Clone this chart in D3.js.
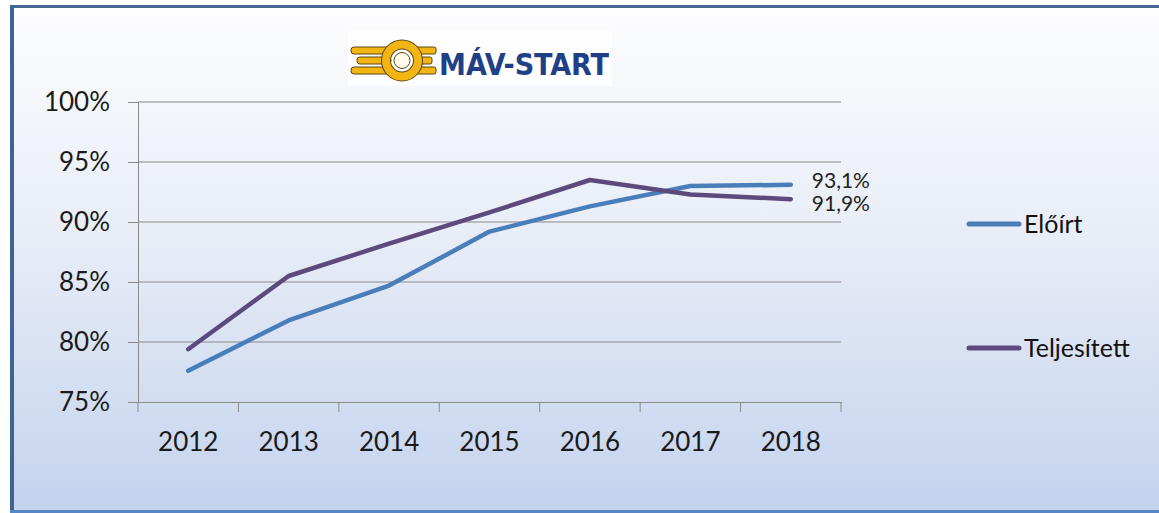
<!DOCTYPE html>
<html>
<head>
<meta charset="utf-8">
<script src="https://cdn.jsdelivr.net/npm/d3@7"></script>
<style>
  body { margin: 0; background: #ffffff; overflow: hidden; }
  svg { display: block; }
</style>
</head>
<body>
<svg id="chart" width="1159" height="513"></svg>
<script>
// chart data
const years = ["2012", "2013", "2014", "2015", "2016", "2017", "2018"];
const eloirt = [0.776, 0.818, 0.847, 0.892, 0.913, 0.930, 0.931];
const teljesitett = [0.794, 0.855, 0.882, 0.908, 0.935, 0.923, 0.919];
const seriesNames = ["Előírt", "Teljesített"];
const seriesColors = ["#4a7ebb", "#5d4a7c"];
const yTicks = [0.75, 0.80, 0.85, 0.90, 0.95, 1.00];

const svg = d3.select("#chart");
const font = "Lato, 'Open Sans', sans-serif";

// background gradient of the chart area
const defs = svg.append("defs");
const grad = defs.append("linearGradient")
  .attr("id", "bg").attr("x1", 0).attr("y1", 0).attr("x2", 0).attr("y2", 1);
grad.append("stop").attr("offset", "0%").attr("stop-color", "#fdfdfe");
grad.append("stop").attr("offset", "45%").attr("stop-color", "#e8edf7");
grad.append("stop").attr("offset", "100%").attr("stop-color", "#c4d3ee");

svg.append("rect")
  .attr("x", 12).attr("y", 7).attr("width", 1160).attr("height", 504)
  .attr("fill", "url(#bg)");

// frame (the right edge is cut off in the original)
svg.append("rect").attr("x", 10).attr("y", 5).attr("width", 1160).attr("height", 3).attr("fill", "#46699a");
svg.append("rect").attr("x", 10).attr("y", 5).attr("width", 4).attr("height", 508).attr("fill", "#3f6393");
svg.append("rect").attr("x", 10).attr("y", 510).attr("width", 1160).attr("height", 3).attr("fill", "#5a86c6");

// scales
const x = d3.scaleBand().domain(years).range([138, 841]);
const y = d3.scaleLinear().domain([0.75, 1]).range([402, 102]);
const cx = d => x(d) + x.bandwidth() / 2;

// gridlines
svg.append("g")
  .selectAll("line")
  .data(yTicks.slice(1))
  .join("line")
  .attr("x1", x.range()[0]).attr("x2", x.range()[1])
  .attr("y1", d => y(d)).attr("y2", d => y(d))
  .attr("stroke", "#8a8a8a").attr("stroke-width", 1);

// y axis
const yAxis = svg.append("g")
  .attr("transform", "translate(" + x.range()[0] + ",0)")
  .call(d3.axisLeft(y).tickValues(yTicks).tickFormat(d3.format(".0%")).tickSize(10).tickPadding(18));
yAxis.select(".domain").attr("stroke", "#8a8a8a");
yAxis.selectAll(".tick line").attr("stroke", "#8a8a8a");
yAxis.selectAll(".tick text")
  .style("font-family", font).style("font-size", "26px").style("fill", "#1a1a1a");

// x axis: labels centred, ticks on category boundaries
const xAxis = svg.append("g")
  .attr("transform", "translate(0," + y(0.75) + ")")
  .call(d3.axisBottom(x).tickSize(0).tickPadding(31));
xAxis.select(".domain").attr("stroke", "#8a8a8a");
xAxis.selectAll(".tick text")
  .style("font-family", font).style("font-size", "26px").style("fill", "#1a1a1a");
const bounds = years.map(d => x(d)).concat([x.range()[1]]);
xAxis.selectAll(".bound")
  .data(bounds)
  .join("line")
  .attr("class", "bound")
  .attr("x1", d => d).attr("x2", d => d)
  .attr("y1", 0).attr("y2", 10)
  .attr("stroke", "#8a8a8a");

// lines
const line = d3.line().x((d, i) => cx(years[i])).y(d => y(d));
[eloirt, teljesitett].forEach((vals, k) => {
  svg.append("path")
    .datum(vals)
    .attr("d", line)
    .attr("fill", "none")
    .attr("stroke", seriesColors[k])
    .attr("stroke-width", 4.5)
    .attr("stroke-linecap", "round")
    .attr("stroke-linejoin", "round");
});

// data labels on the last point (nudged a little apart, they nearly collide)
const fmtLabel = v => d3.format(".1%")(v).replace(".", ",");
[eloirt, teljesitett].forEach((vals, k) => {
  const last = vals.length - 1;
  svg.append("text")
    .attr("x", cx(years[last]) + 21)
    .attr("y", y(vals[last]) + (k === 0 ? -4 : 4))
    .attr("dy", "0.35em")
    .style("font-family", font).style("font-size", "21px").style("fill", "#222")
    .text(fmtLabel(vals[last]));
});

// legend
const legend = svg.append("g");
seriesNames.forEach((name, k) => {
  const ly = 224 + k * 124;
  legend.append("line")
    .attr("x1", 969).attr("x2", 1019)
    .attr("y1", ly).attr("y2", ly)
    .attr("stroke", seriesColors[k]).attr("stroke-width", 5)
    .attr("stroke-linecap", "round");
  legend.append("text")
    .attr("x", 1024).attr("y", ly).attr("dy", "0.35em")
    .style("font-family", font).style("font-size", "25px").style("fill", "#111")
    .text(name);
});

// MÁV-START logo
const logo = svg.append("g");
logo.append("rect")
  .attr("x", 348).attr("y", 30).attr("width", 264).attr("height", 56)
  .attr("fill", "#ffffff").attr("opacity", 0.8);
const yellow = "#f3b512", outline = "#5a4612";
// stripes on the left (wings)
[[351, 47, 42], [357, 57, 34], [351, 67, 42]].forEach(b => {
  logo.append("rect")
    .attr("x", b[0]).attr("y", b[1]).attr("width", b[2]).attr("height", 7).attr("rx", 3)
    .attr("fill", yellow).attr("stroke", outline).attr("stroke-width", 1);
});
// stripes on the right
[[414, 47, 22], [414, 57, 18], [414, 67, 22]].forEach(b => {
  logo.append("rect")
    .attr("x", b[0]).attr("y", b[1]).attr("width", b[2]).attr("height", 7).attr("rx", 2)
    .attr("fill", yellow).attr("stroke", outline).attr("stroke-width", 1);
});
// wheel
logo.append("circle")
  .attr("cx", 402).attr("cy", 60.5).attr("r", 16)
  .attr("fill", "none").attr("stroke", outline).attr("stroke-width", 10);
logo.append("circle")
  .attr("cx", 402).attr("cy", 60.5).attr("r", 16)
  .attr("fill", "none").attr("stroke", yellow).attr("stroke-width", 8);
logo.append("circle")
  .attr("cx", 402).attr("cy", 60.5).attr("r", 8)
  .attr("fill", "#fffbe8").attr("stroke", outline).attr("stroke-width", 1);
logo.append("text")
  .attr("x", 439).attr("y", 75)
  .attr("textLength", 170)
  .attr("lengthAdjust", "spacingAndGlyphs")
  .style("font-family", "'DejaVu Sans Condensed', 'Liberation Sans Narrow', sans-serif")
  .style("font-weight", "bold")
  .style("font-size", "31px")
  .style("fill", "#1f3f86")
  .text("MÁV-START");
</script>
</body>
</html>
